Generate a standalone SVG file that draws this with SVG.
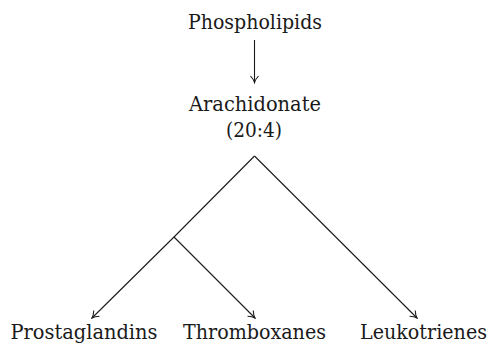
<svg xmlns="http://www.w3.org/2000/svg" width="489" height="344" viewBox="0 0 489 344">
<style>
text{font-family:"DejaVu Serif","Liberation Serif",serif;font-size:20.5px;fill:#1a1a1a;text-anchor:middle}
.c{stroke:#1a1a1a;stroke-width:1.1;fill:none}
</style>
<defs>
<marker id="a" viewBox="0 0 10 10" refX="9" refY="5" markerWidth="10" markerHeight="10" markerUnits="userSpaceOnUse" orient="auto">
<path d="M2.5,1 Q6,4.2 9,5 Q6,5.8 2.5,9" fill="none" stroke="#1a1a1a" stroke-width="1.1"/>
</marker>
</defs>
<rect width="489" height="344" fill="#fff"/>
<g id="phospholipids"><text x="255" y="29" textLength="134" lengthAdjust="spacingAndGlyphs">Phospholipids</text></g>
<g id="arachidonate"><text x="255" y="111" textLength="132" lengthAdjust="spacingAndGlyphs">Arachidonate</text><text x="254" y="137" textLength="56" lengthAdjust="spacingAndGlyphs">(20:4)</text></g>
<g id="prostaglandins"><text x="84" y="338.5" textLength="147" lengthAdjust="spacingAndGlyphs">Prostaglandins</text></g>
<g id="thromboxanes"><text x="254.5" y="338.5" textLength="143" lengthAdjust="spacingAndGlyphs">Thromboxanes</text></g>
<g id="leukotrienes"><text x="423.5" y="338.5" textLength="127" lengthAdjust="spacingAndGlyphs">Leukotrienes</text></g>
<g id="connectors">
<path class="c" d="M254.5,40 V82.5" marker-end="url(#a)"/>
<path class="c" d="M254.5,156 L174,237 L92,318" marker-end="url(#a)"/>
<path class="c" d="M174,237 L255,318" marker-end="url(#a)"/>
<path class="c" d="M254.5,156 L417,318" marker-end="url(#a)"/>
</g>
</svg>
